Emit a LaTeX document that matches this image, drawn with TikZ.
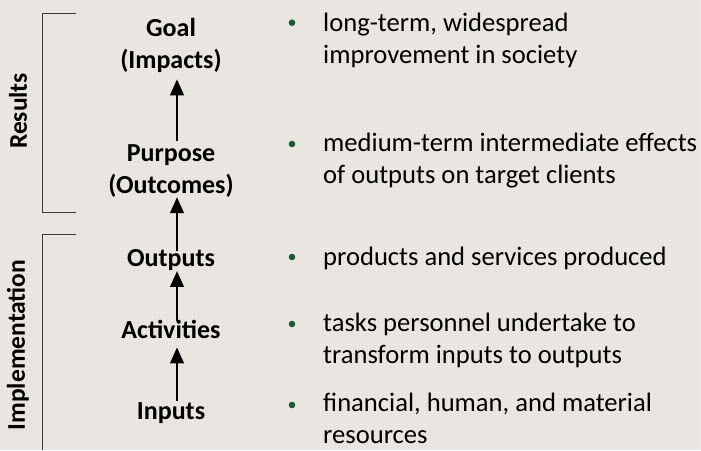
\documentclass[tikz,border=0pt]{standalone}
\usepackage{fontspec}
\setmainfont{Carlito}
\usetikzlibrary{arrows.meta}

\definecolor{paper}{HTML}{E7E3DD}
\definecolor{weave}{HTML}{F4F1EC}
\definecolor{bulletgreen}{HTML}{1F5A38}
\definecolor{bracketgray}{HTML}{3A3A3A}

\tikzset{
  stage/.style={font=\fontsize{26}{31.5}\selectfont\bfseries, align=center, inner sep=0pt, anchor=base},
  note/.style={font=\fontsize{26.6}{31.5}\selectfont, align=left, inner sep=0pt, anchor=base west},
  group/.style={font=\fontsize{25.5}{30}\selectfont\bfseries, rotate=90, inner sep=0pt},
  flow/.style={line width=2.6pt, -{Triangle[length=16pt,width=13.5pt]}},
  bracket/.style={draw=bracketgray, line width=1pt},
  dot/.style={fill=bulletgreen}
}

\begin{document}
\begin{tikzpicture}[x=1pt,y=-1pt,line cap=butt]
\useasboundingbox (0,0) rectangle (701,450);
\fill[paper] (0,0) rectangle (701,450);
% fine woven texture
\foreach \k in {0,4,...,700}
  \draw[weave, opacity=0.35, line width=1pt] (\k,0) -- (\k,450);
\foreach \k in {0,4,...,448}
  \draw[weave, opacity=0.35, line width=1pt] (0,\k) -- (701,\k);

% stages of the chain (base = last line)
\node[stage] (goal) at (171,68) {Goal\\(Impacts)};
\node[stage] (purpose) at (171,193) {Purpose\\(Outcomes)};
\node[stage] (outputs) at (171,266.7) {Outputs};
\node[stage] (activities) at (171,338) {Activities};
\node[stage] (inputs) at (171,419) {Inputs};

% arrows between stages
\draw[flow, shorten <=3pt, shorten >=7pt] ([xshift=6pt]purpose.north) -- ([xshift=6pt]goal.south);
\draw[flow, shorten <=-2pt] ([xshift=6pt]outputs.north) -- ([xshift=6pt]purpose.south);
\draw[flow, shorten <=-1pt] ([xshift=6pt]activities.north) -- ([xshift=6pt]outputs.south);
\draw[flow, shorten <=1pt, shorten >=9pt] ([xshift=6pt]inputs.north) -- ([xshift=6pt]activities.south);

% brackets on the left
\coordinate (rtop) at (76,13);
\coordinate (rbot) at (76,212);
\coordinate (itop) at (76,234);
\coordinate (ibot) at (76,450);
\draw[bracket] (rtop) -- (42.7,13) -- (42.7,212) -- (rbot);
\draw[bracket] (itop) -- (42.7,234) -- (42.7,450);
\node[group] (results) at (18,111) {Results};
\node[group] (impl) at (18,345) {Implementation};

% descriptions
\node[note] (d1) at (323,63) {long-term, widespread\\improvement in society};
\node[note] (d2) at (323,183) {medium-term intermediate effects\\of outputs on target clients};
\node[note] (d3) at (323,265) {products and services produced};
\node[note] (d4) at (323,363) {tasks personnel undertake to\\transform inputs to outputs};
\node[note] (d5) at (323,443) {financial, human, and material\\resources};

\foreach \y in {22.7,144,257,324,405}
  \fill[dot] (292,\y) circle (3.3);
\end{tikzpicture}
\end{document}
